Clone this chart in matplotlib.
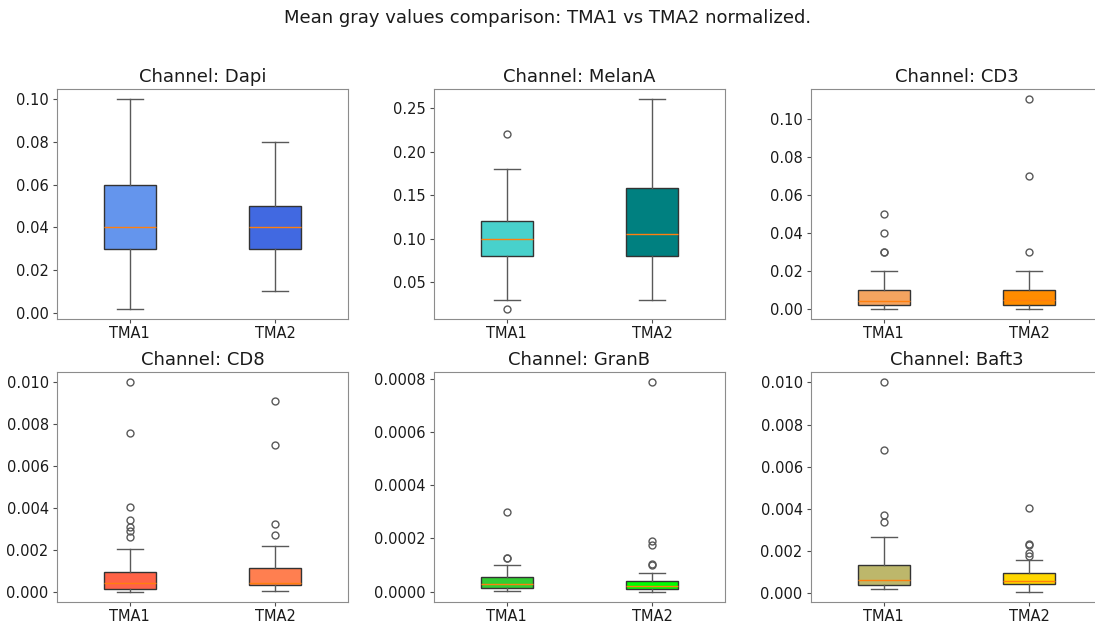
import matplotlib
matplotlib.use("Agg")
import matplotlib.pyplot as plt
from matplotlib.ticker import MaxNLocator

channels = ["Dapi", "MelanA", "CD3", "CD8", "GranB", "Baft3"]
groups = ["TMA1", "TMA2"]
colors = [["cornflowerblue", "royalblue"],
          ["mediumturquoise", "teal"],
          ["sandybrown", "darkorange"],
          ["tomato", "coral"],
          ["limegreen", "lime"],
          ["darkkhaki", "gold"]]

# box statistics per channel: [TMA1, TMA2]
whislo = [[0.002, 0.01], [0.03, 0.03], [0.0003, 0.0003],
          [0.0, 0.00003], [0.000003, 0.0], [0.00018, 0.00007]]
q1 = [[0.03, 0.03], [0.08, 0.08], [0.002, 0.002],
      [0.00012, 0.0003], [0.000015, 0.000008], [0.00037, 0.00042]]
med = [[0.04, 0.04], [0.10, 0.105], [0.0045, 0.005],
       [0.0004, 0.0004], [0.00003, 0.00002], [0.00064, 0.00058]]
q3 = [[0.06, 0.05], [0.12, 0.158], [0.01, 0.01],
      [0.00095, 0.00113], [0.000055, 0.000038], [0.00135, 0.00093]]
whishi = [[0.10, 0.08], [0.18, 0.26], [0.02, 0.02],
          [0.00203, 0.00217], [0.0001, 0.00007], [0.00265, 0.00155]]
fliers = [[[], []],
          [[0.22, 0.02], []],
          [[0.03, 0.03, 0.04, 0.05], [0.03, 0.07, 0.11]],
          [[0.0026, 0.0029, 0.0031, 0.0034, 0.00405, 0.00755, 0.00997],
           [0.0027, 0.0032, 0.007, 0.0091]],
          [[0.000127, 0.000128, 0.0003],
           [0.0001, 0.000102, 0.000175, 0.00019, 0.000787]],
          [[0.00335, 0.0037, 0.0068, 0.01],
           [0.00175, 0.0019, 0.0023, 0.00232, 0.00402]]]

W, H = 1095, 623
fig = plt.figure(figsize=(W / 100, H / 100), dpi=100)
fig.suptitle("Mean gray values comparison: TMA1 vs TMA2 normalized.",
             fontsize=13, y=1 - 18 / H, va="center", color="0.1")

lefts = [57, 434, 811]
tops = [89, 372]
aw, ah = 291, 230

for i, ch in enumerate(channels):
    r, c = divmod(i, 3)
    ax = fig.add_axes([lefts[c] / W, 1 - (tops[r] + ah) / H, aw / W, ah / H])
    stats = []
    for j, g in enumerate(groups):
        stats.append(dict(label=g, med=med[i][j], q1=q1[i][j], q3=q3[i][j],
                          whislo=whislo[i][j], whishi=whishi[i][j],
                          fliers=fliers[i][j]))
    bp = ax.bxp(stats, widths=0.36, patch_artist=True,
                boxprops=dict(edgecolor="0.2", linewidth=1.0),
                whiskerprops=dict(color="0.35", linewidth=1.0),
                capprops=dict(color="0.35", linewidth=1.0),
                medianprops=dict(color="C1", linewidth=1.0),
                flierprops=dict(marker="o", markerfacecolor="none",
                                markeredgecolor="0.35", markersize=5))
    for patch, col in zip(bp["boxes"], colors[i]):
        patch.set_facecolor(col)
    ax.yaxis.set_major_locator(MaxNLocator(nbins=8, steps=[1, 2, 2.5, 5, 10]))
    ax.set_title(f"Channel: {ch}", fontsize=13, color="0.1", pad=5)
    ax.tick_params(labelsize=10.5, labelcolor="0.1", color="0.3", length=3)
    ax.tick_params(axis="x", pad=2)
    ax.tick_params(axis="y", pad=3)
    for s in ax.spines.values():
        s.set_edgecolor("0.55")

fig.savefig("out.png", dpi=100)
